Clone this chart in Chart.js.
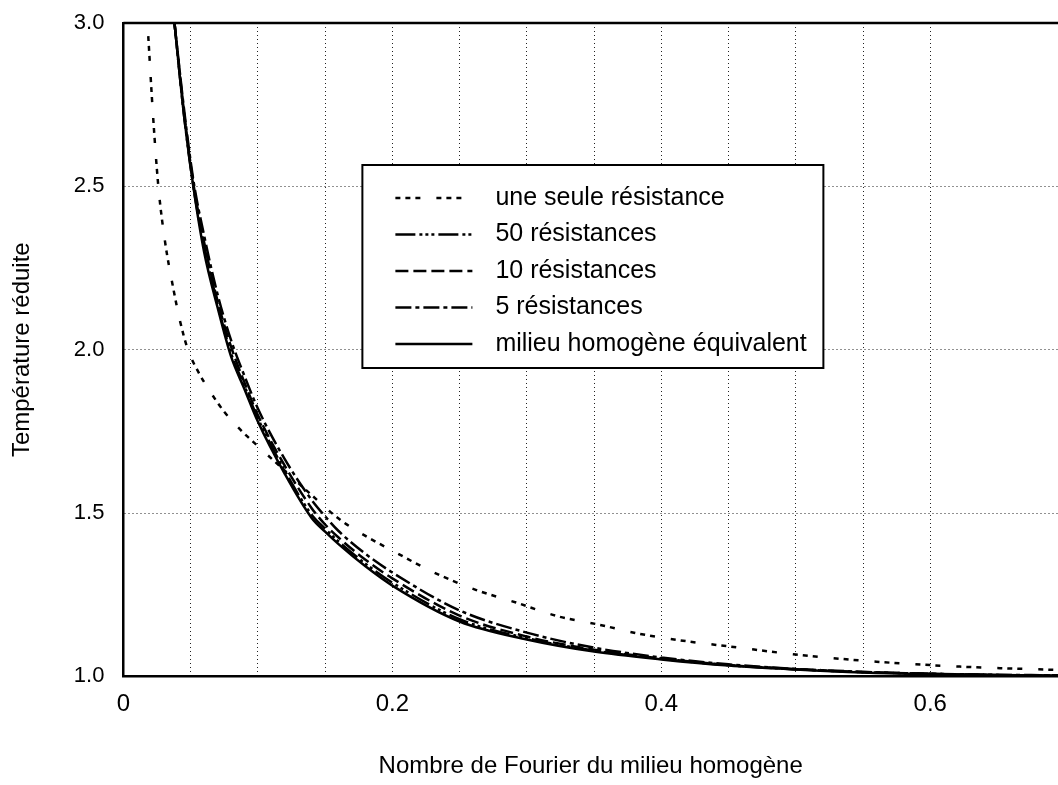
<!DOCTYPE html>
<html>
<head>
<meta charset="utf-8">
<script src="https://cdn.jsdelivr.net/npm/chart.js@4.4.1/dist/chart.umd.min.js"></script>
<style>
  html, body { margin: 0; padding: 0; background: #fff; }
  #wrap { width: 1058px; height: 785px; }
</style>
</head>
<body>
<div id="wrap"><canvas id="c"></canvas></div>
<script>
const FONT = '"Liberation Sans", Arial, Helvetica, sans-serif';

const LABELS = ['une seule résistance', '50 résistances', '10 résistances', '5 résistances', 'milieu homogène équivalent'];

// une seule résistance
const foSingle = [0.0185, 0.022, 0.026, 0.031, 0.037, 0.042, 0.048, 0.056, 0.064, 0.075, 0.087, 0.1, 0.12, 0.14, 0.161, 0.18, 0.2, 0.23, 0.262, 0.292, 0.324, 0.353, 0.383, 0.42, 0.45, 0.5, 0.56, 0.622, 0.7];
const tSingle  = [2.96, 2.72, 2.50, 2.33, 2.19, 2.09, 2.00, 1.93, 1.875, 1.81, 1.755, 1.705, 1.63, 1.555, 1.48, 1.43, 1.385, 1.32, 1.265, 1.226, 1.183, 1.159, 1.131, 1.107, 1.092, 1.067, 1.045, 1.03, 1.019];

// shared abscissa for the other four curves
const fo = [0.038, 0.045, 0.052, 0.06, 0.07, 0.08, 0.09, 0.1, 0.12, 0.14, 0.15, 0.16, 0.18, 0.2, 0.25, 0.3, 0.35, 0.4, 0.45, 0.5, 0.55, 0.6, 0.65, 0.7];
const t50    = [3.00, 2.72, 2.50, 2.32, 2.14, 1.99, 1.89, 1.79, 1.63, 1.495, 1.452, 1.413, 1.345, 1.287, 1.175, 1.117, 1.079, 1.054, 1.034, 1.022, 1.013, 1.008, 1.004, 1.002];
const t10    = [3.00, 2.73, 2.51, 2.33, 2.15, 2.01, 1.90, 1.80, 1.645, 1.515, 1.465, 1.425, 1.357, 1.30, 1.186, 1.122, 1.082, 1.055, 1.035, 1.022, 1.013, 1.008, 1.004, 1.002];
const t5     = [3.00, 2.74, 2.52, 2.35, 2.17, 2.03, 1.92, 1.82, 1.665, 1.54, 1.49, 1.445, 1.375, 1.318, 1.202, 1.134, 1.088, 1.058, 1.037, 1.023, 1.014, 1.008, 1.005, 1.003];
const tHomog = [3.00, 2.72, 2.50, 2.30, 2.13, 1.98, 1.88, 1.78, 1.62, 1.485, 1.443, 1.405, 1.337, 1.278, 1.168, 1.113, 1.076, 1.052, 1.033, 1.021, 1.012, 1.007, 1.004, 1.002];

const DASHES = [[5, 5, 5, 5, 5, 16], [20, 4, 3, 3, 3, 3, 3, 4], [13, 5], [16, 4, 4, 4], []];

const pts = (xs, ys) => xs.map((x, i) => ({ x, y: ys[i] }));
const series = [pts(foSingle, tSingle), pts(fo, t50), pts(fo, t10), pts(fo, t5), pts(fo, tHomog)];

const isStep = (v, s) => Math.abs(v / s - Math.round(v / s)) < 1e-6;

// top frame line of the plot
const frameTop = {
  id: 'frameTop',
  afterDatasetsDraw(chart) {
    const { ctx, chartArea: a } = chart;
    ctx.save();
    ctx.strokeStyle = '#000';
    ctx.lineWidth = 2.5;
    ctx.beginPath();
    ctx.moveTo(a.left, a.top);
    ctx.lineTo(a.right, a.top);
    ctx.stroke();
    ctx.restore();
  }
};

// boxed legend inside the plot
const boxLegend = {
  id: 'boxLegend',
  afterDraw(chart) {
    const { ctx, chartArea: a } = chart;
    const bx = a.left + 239, by = a.top + 142, bw = 461, bh = 203;
    ctx.save();
    ctx.fillStyle = '#fff';
    ctx.fillRect(bx, by, bw, bh);
    ctx.strokeStyle = '#000';
    ctx.lineWidth = 2;
    ctx.strokeRect(bx, by, bw, bh);
    ctx.font = '25px ' + FONT;
    ctx.textBaseline = 'middle';
    ctx.fillStyle = '#000';
    chart.data.datasets.forEach((ds, i) => {
      const y = by + 33 + i * 36.5;
      ctx.setLineDash(ds.borderDash);
      ctx.lineWidth = 2.5;
      ctx.beginPath();
      ctx.moveTo(bx + 33, y);
      ctx.lineTo(bx + 110, y);
      ctx.stroke();
      ctx.setLineDash([]);
      ctx.fillText(ds.label, bx + 133, y);
    });
    ctx.restore();
  }
};

new Chart(document.getElementById('c'), {
  type: 'scatter',
  data: {
    datasets: series.map((d, i) => ({
      label: LABELS[i],
      data: d,
      showLine: true,
      borderColor: '#000',
      borderWidth: 2.5,
      borderDash: DASHES[i],
      pointRadius: 0,
      cubicInterpolationMode: 'monotone'
    }))
  },
  options: {
    responsive: true,
    maintainAspectRatio: false,
    animation: false,
    layout: { padding: { top: 23, right: 0, bottom: 4, left: 8 } },
    plugins: { legend: { display: false }, tooltip: { enabled: false } },
    scales: {
      x: {
        type: 'linear', min: 0, max: 0.695,
        ticks: {
          stepSize: 0.05, autoSkip: false, maxRotation: 0, padding: 0, color: '#000',
          font: { family: FONT, size: 24 },
          callback: v => isStep(v, 0.2) ? (Math.abs(v) < 1e-9 ? '0' : v.toFixed(1)) : ''
        },
        grid: {
          drawTicks: true, tickLength: 14, tickColor: 'rgba(0,0,0,0)', lineWidth: 1,
          color: c => (c.tick && isStep(c.tick.value, 0.05)) ? '#222' : 'rgba(0,0,0,0)'
        },
        border: { display: true, color: '#000', width: 2.5, dash: [1, 3] },
        title: {
          display: true, text: 'Nombre de Fourier du milieu homogène', color: '#000',
          font: { family: FONT, size: 24 }, padding: { top: 33, bottom: 0 }
        }
      },
      y: {
        min: 1, max: 3,
        ticks: {
          stepSize: 0.5, padding: 0, color: '#000',
          font: { family: FONT, size: 22 },
          callback: v => v.toFixed(1)
        },
        grid: { drawTicks: true, tickLength: 19, tickColor: 'rgba(0,0,0,0)', lineWidth: 1, color: '#222' },
        border: { display: true, color: '#000', width: 2.5, dash: [1, 3] },
        title: {
          display: true, text: 'Température réduite', color: '#000',
          font: { family: FONT, size: 24 }, padding: { top: 0, bottom: 37 }
        }
      }
    }
  },
  plugins: [frameTop, boxLegend]
});
</script>
</body>
</html>
